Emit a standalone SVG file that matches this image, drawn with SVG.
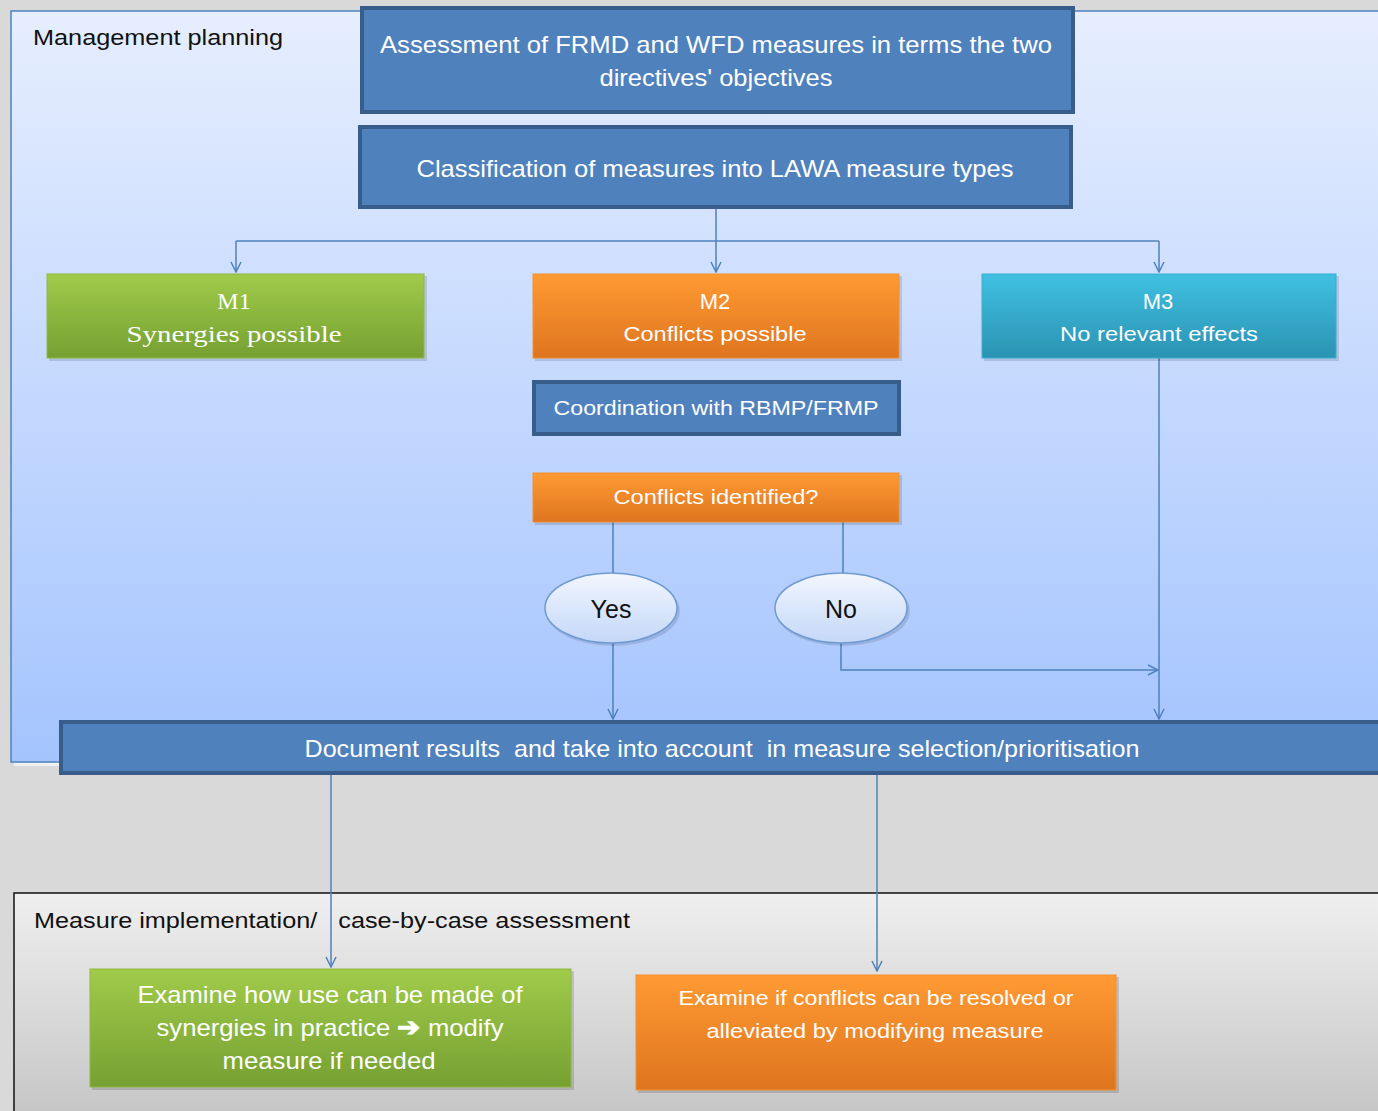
<svg xmlns="http://www.w3.org/2000/svg" width="1378" height="1111" viewBox="0 0 1378 1111">
<defs>
<linearGradient id="gTop" x1="0" y1="0" x2="0" y2="1"><stop offset="0" stop-color="#e6eefe"/><stop offset="1" stop-color="#a4c4fe"/></linearGradient>
<linearGradient id="gBot" x1="0" y1="0" x2="0" y2="1"><stop offset="0" stop-color="#efefef"/><stop offset="1" stop-color="#c6c6c6"/></linearGradient>
<linearGradient id="gGreen" x1="0" y1="0" x2="0" y2="1"><stop offset="0" stop-color="#a0cb4a"/><stop offset="1" stop-color="#76a032"/></linearGradient>
<linearGradient id="gOrange" x1="0" y1="0" x2="0" y2="1"><stop offset="0" stop-color="#ff9a33"/><stop offset="1" stop-color="#de751f"/></linearGradient>
<linearGradient id="gCyan" x1="0" y1="0" x2="0" y2="1"><stop offset="0" stop-color="#40c0e2"/><stop offset="1" stop-color="#2b93b3"/></linearGradient>
<linearGradient id="gEll" x1="0" y1="0" x2="0" y2="1"><stop offset="0" stop-color="#f2f6fe"/><stop offset="1" stop-color="#c4d8f8"/></linearGradient>
<marker id="arr" viewBox="0 0 12 12" refX="11" refY="6" markerWidth="12" markerHeight="12" markerUnits="userSpaceOnUse" orient="auto"><path d="M1,1 L11,6 L1,11" fill="none" stroke="#4f81bd" stroke-width="1.5"/></marker>
</defs>
<style>
text{white-space:pre}
.blue{fill:#4f81bd;stroke:#385d8a;stroke-width:4}
.wt{fill:#ffffff;font-family:"Liberation Sans",Arial,sans-serif;text-anchor:middle}
.bt{fill:#111111;font-family:"Liberation Sans",Arial,sans-serif}
.con{fill:none;stroke:#4f81bd;stroke-width:1.5}
</style>
<rect x="0" y="0" width="1378" height="1111" fill="#d9d9d9"/>

<g id="panel-management">
<rect x="14" y="14" width="1370" height="752" fill="#ffffff" opacity="0.6"/>
<rect x="11" y="11" width="1370" height="751" fill="url(#gTop)" stroke="#4f81bd" stroke-width="1.5"/>
<text class="bt" x="33" y="45" font-size="22" textLength="250" lengthAdjust="spacingAndGlyphs">Management planning</text>
</g>

<g id="panel-implementation">
<rect x="14" y="893" width="1370" height="222" fill="url(#gBot)" stroke="#111111" stroke-width="1.5"/>
<text class="bt" x="34" y="928" font-size="22" textLength="596" lengthAdjust="spacingAndGlyphs">Measure implementation/   case-by-case assessment</text>
</g>

<g id="connectors">
<path class="con" d="M716,208 V272" marker-end="url(#arr)"/>
<path class="con" d="M236,241 H1159"/>
<path class="con" d="M236,241 V272" marker-end="url(#arr)"/>
<path class="con" d="M1159,241 V272" marker-end="url(#arr)"/>
<path class="con" d="M613,522 V574"/>
<path class="con" d="M843,522 V574"/>
<path class="con" d="M613,643 V719" marker-end="url(#arr)"/>
<path class="con" d="M841,643 V670 H1158" marker-end="url(#arr)"/>
<path class="con" d="M1159,358 V719" marker-end="url(#arr)"/>
<path class="con" d="M331,774 V967" marker-end="url(#arr)"/>
<path class="con" d="M877,774 V971" marker-end="url(#arr)"/>
</g>

<g id="node-assessment">
<rect class="blue" x="362" y="8" width="711" height="104"/>
<text class="wt" x="716" y="53" font-size="24" textLength="672" lengthAdjust="spacingAndGlyphs">Assessment of FRMD and WFD measures in terms the two</text>
<text class="wt" x="716" y="86" font-size="24" textLength="233" lengthAdjust="spacingAndGlyphs">directives' objectives</text>
</g>

<g id="node-classification">
<rect class="blue" x="360" y="127" width="711" height="80"/>
<text class="wt" x="715" y="177" font-size="24" textLength="597" lengthAdjust="spacingAndGlyphs">Classification of measures into LAWA measure types</text>
</g>

<g id="node-m1">
<rect x="49" y="276" width="378" height="85" fill="#000" opacity="0.12"/>
<rect x="47" y="274" width="377" height="84" fill="url(#gGreen)" stroke="#8fba40" stroke-width="1"/>
<text class="wt" x="234" y="309" font-size="24" style="font-family:'Liberation Serif',serif">M1</text>
<text class="wt" x="234" y="342" font-size="24" style="font-family:'Liberation Serif',serif" textLength="215" lengthAdjust="spacingAndGlyphs">Synergies possible</text>
</g>

<g id="node-m2">
<rect x="535" y="276" width="367" height="85" fill="#000" opacity="0.12"/>
<rect x="533" y="274" width="366" height="84" fill="url(#gOrange)" stroke="#f59030" stroke-width="1"/>
<text class="wt" x="715" y="309" font-size="22">M2</text>
<text class="wt" x="715" y="341" font-size="21" textLength="183" lengthAdjust="spacingAndGlyphs">Conflicts possible</text>
</g>

<g id="node-m3">
<rect x="984" y="276" width="355" height="85" fill="#000" opacity="0.12"/>
<rect x="982" y="274" width="354" height="84" fill="url(#gCyan)" stroke="#39aed0" stroke-width="1"/>
<text class="wt" x="1158" y="309" font-size="22">M3</text>
<text class="wt" x="1159" y="341" font-size="21" textLength="198" lengthAdjust="spacingAndGlyphs">No relevant effects</text>
</g>

<g id="node-coordination">
<rect class="blue" x="534" y="382" width="365" height="52" stroke-width="3.5"/>
<text class="wt" x="716" y="415" font-size="21" textLength="325" lengthAdjust="spacingAndGlyphs">Coordination with RBMP/FRMP</text>
</g>

<g id="node-conflicts">
<rect x="535" y="475" width="367" height="50" fill="#000" opacity="0.12"/>
<rect x="533" y="473" width="366" height="49" fill="url(#gOrange)" stroke="#f59030" stroke-width="1"/>
<text class="wt" x="716" y="504" font-size="20" textLength="205" lengthAdjust="spacingAndGlyphs">Conflicts identified?</text>
</g>

<g id="node-yes">
<ellipse cx="613" cy="611" rx="67" ry="35" fill="#000" opacity="0.12"/>
<ellipse cx="611" cy="608" rx="66" ry="35" fill="url(#gEll)" stroke="#6f9bd2" stroke-width="1.5"/>
<text class="bt" x="611" y="618" font-size="25" text-anchor="middle">Yes</text>
</g>

<g id="node-no">
<ellipse cx="843" cy="611" rx="67" ry="35" fill="#000" opacity="0.12"/>
<ellipse cx="841" cy="608" rx="66" ry="35" fill="url(#gEll)" stroke="#6f9bd2" stroke-width="1.5"/>
<text class="bt" x="841" y="618" font-size="25" text-anchor="middle">No</text>
</g>

<g id="node-document">
<rect class="blue" x="61" y="722" width="1330" height="51"/>
<text class="wt" x="722" y="757" font-size="24" textLength="835" lengthAdjust="spacingAndGlyphs">Document results  and take into account  in measure selection/prioritisation</text>
</g>

<g id="node-synergies">
<rect x="92" y="971" width="482" height="119" fill="#000" opacity="0.14"/>
<rect x="90" y="969" width="481" height="118" fill="url(#gGreen)" stroke="#8fba40" stroke-width="1"/>
<text class="wt" x="330" y="1003" font-size="24" textLength="385" lengthAdjust="spacingAndGlyphs">Examine how use can be made of</text>
<text class="wt" x="330" y="1036" font-size="24" textLength="347" lengthAdjust="spacingAndGlyphs">synergies in practice <tspan font-weight="bold" font-size="26">➔</tspan> modify</text>
<text class="wt" x="329" y="1069" font-size="24" textLength="213" lengthAdjust="spacingAndGlyphs">measure if needed</text>
</g>

<g id="node-resolve">
<rect x="638" y="977" width="481" height="116" fill="#000" opacity="0.14"/>
<rect x="636" y="975" width="480" height="115" fill="url(#gOrange)" stroke="#f59030" stroke-width="1"/>
<text class="wt" x="876" y="1005" font-size="20" textLength="395" lengthAdjust="spacingAndGlyphs">Examine if conflicts can be resolved or</text>
<text class="wt" x="875" y="1038" font-size="20" textLength="337" lengthAdjust="spacingAndGlyphs">alleviated by modifying measure</text>
</g>
</svg>
